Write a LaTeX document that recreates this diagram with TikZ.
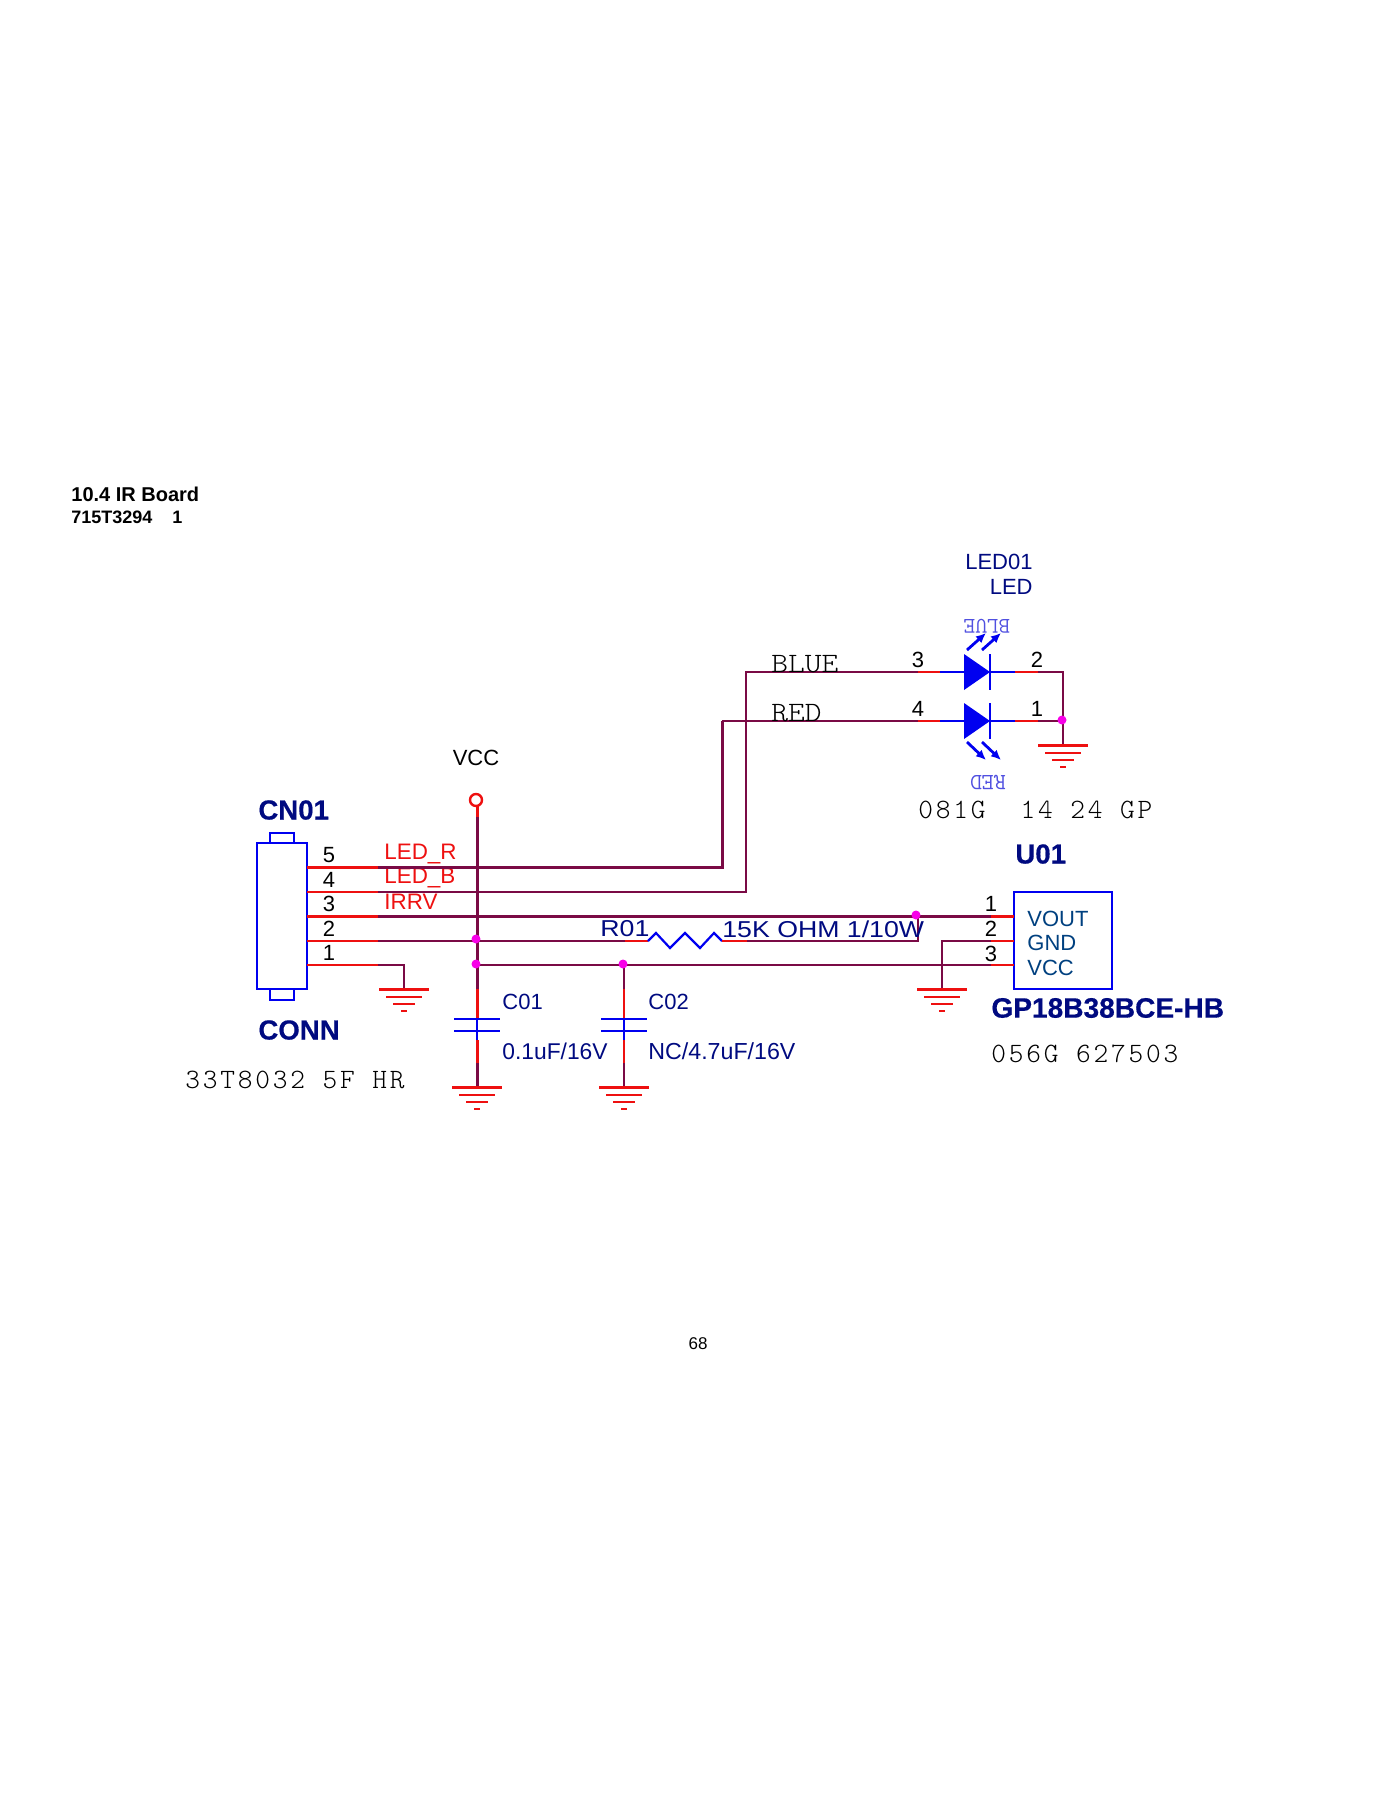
\documentclass[tikz,border=0pt]{standalone}
\usepackage{fontspec}
\usetikzlibrary{arrows.meta}
\setmainfont{Liberation Sans}
\newfontfamily\widesans[FakeStretch=1.16]{Liberation Sans}
\newfontfamily\heavysans[FakeBold=0.5]{Liberation Sans Bold}
\newfontfamily\thinmono[FakeStretch=1.14]{Latin Modern Mono Light}
\newfontfamily\spacedmono[LetterSpace=10]{Latin Modern Mono Light}
\definecolor{wirecol}{HTML}{7A0A45}
\definecolor{pincol}{HTML}{EE1010}
\definecolor{navycol}{HTML}{000A80}
\definecolor{tealcol}{HTML}{00407F}
\definecolor{partblue}{HTML}{0000F0}
\definecolor{ghostblue}{HTML}{5050E0}
\definecolor{dotcol}{HTML}{F800E8}
\begin{document}
\begin{tikzpicture}[x=0.5pt,y=-0.5pt]
	\tikzstyle{wire}=[draw=wirecol,line width=1pt]
	\tikzstyle{thickwire}=[draw=wirecol,line width=1.5pt]
	\tikzstyle{pin}=[draw=pincol,line width=1pt]
	\tikzstyle{thickpin}=[draw=pincol,line width=1.5pt]
	\tikzstyle{part}=[draw=partblue,line width=1.4pt]
	\tikzstyle{lead}=[draw=partblue,line width=1.1pt]
	\tikzstyle{label}=[inner sep=0,yshift=-0.5pt]
	\tikzstyle{num}=[label,font=\fontsize{11}{11}\selectfont]
	\tikzstyle{pinname}=[label,anchor=west,text=pincol,font=\fontsize{11.2}{11.2}\selectfont]
	\tikzstyle{val}=[label,anchor=west,text=navycol,font=\fontsize{11}{11}\selectfont]
	\tikzstyle{big}=[label,anchor=west,text=navycol,font=\fontsize{13.8}{13.8}\heavysans]
	\tikzstyle{mono}=[label,anchor=west,font=\fontsize{14}{14}\spacedmono]
	\tikzstyle{junction}=[circle,fill=dotcol,inner sep=0,minimum size=4.5pt]

	\useasboundingbox (0,0) rectangle (1400,1812);

	\node[label,anchor=west,font=\fontsize{10}{10}\selectfont\bfseries](title) at (71,493){10.4 IR Board};
	\node[label,anchor=west,font=\fontsize{9}{9}\selectfont\bfseries](board) at (71,516){715T3294\ \ \ \ 1};
	\node[label,font=\fontsize{8.5}{8.5}\selectfont](page) at (698,1343){68};

	% connector CN01
	\draw[part] (257,843) rectangle (307,989);
	\draw[lead] (270,843) -- (270,833) -- (294,833) -- (294,843);
	\draw[lead] (270,989) -- (270,1000) -- (294,1000) -- (294,989);
	\node[big](cn) at (258,809){CN01};
	\node[big](conn) at (258,1029){CONN};
	\node[mono](cnpart) at (185,1079){33T8032 5F HR};
	\node[num](n5) at (329,854){5};
	\node[num](n4) at (329,879){4};
	\node[num](n3) at (329,903){3};
	\node[num](n2) at (329,928){2};
	\node[num](n1) at (329,952){1};
	\node[pinname](ledr) at (384,853){LED\_R};
	\node[pinname](ledb) at (384,877){LED\_B};
	\node[pinname](irrv) at (384,901){IRRV};

	\foreach \pn/\py in {5/867,4/892,3/916,2/941,1/965}{
		\coordinate (a\pn) at (307,\py);
		\coordinate (b\pn) at (378,\py);
	}
	\coordinate (rcorner) at (722,867);
	\coordinate (rled) at (722,721);
	\coordinate (bcorner) at (746,892);
	\coordinate (bled) at (746,672);
	\coordinate (tapvcc) at (477,965);
	\coordinate (tap2) at (477,941);

	% led side
	\coordinate (l3a) at (918,672);
	\coordinate (l3b) at (940,672);
	\coordinate (l3c) at (964,672);
	\coordinate (l2c) at (990,672);
	\coordinate (l2b) at (1015,672);
	\coordinate (l2a) at (1038,672);
	\coordinate (lcr) at (1063,672);
	\coordinate (l4a) at (918,721);
	\coordinate (l4b) at (940,721);
	\coordinate (l4c) at (964,721);
	\coordinate (l1c) at (990,721);
	\coordinate (l1b) at (1015,721);
	\coordinate (l1a) at (1038,721);
	\coordinate (ljoin) at (1063,721);
	\coordinate (gled) at (1063,745);

	\draw[thickwire] (b5) -- (rcorner) -- (rled);
	\draw[wire] (rled) -- (l4a);
	\draw[wire] (b4) -- (bcorner) -- (bled) -- (l3a);
	\draw[wire] (l2a) -- (lcr) -- (gled);
	\draw[wire] (l1a) -- (ljoin);
	\foreach \ua/\ub in {a5/b5,a3/b3}{\draw[thickpin] (\ua) -- (\ub);}
	\foreach \ua/\ub in {a4/b4,a2/b2,a1/b1,l3a/l3b,l2b/l2a,l4a/l4b,l1b/l1a}{\draw[pin] (\ua) -- (\ub);}
	\draw[lead] (l3b) -- (l3c);
	\draw[lead] (l2c) -- (l2b);
	\draw[lead] (l4b) -- (l4c);
	\draw[lead] (l1c) -- (l1b);
	\foreach \ly in {672,721}{
		\fill[partblue] (964,\ly-18) -- (990,\ly) -- (964,\ly+18) -- cycle;
		\draw[lead] (990,\ly-18) -- (990,\ly+18);
	}
	\foreach \ax in {967,982}{
		\draw[lead,line width=1.4pt,-{Latex[length=5pt,width=4.5pt]}] (\ax,650) -- (\ax+19,633);
		\draw[lead,line width=1.4pt,-{Latex[length=5pt,width=4.5pt]}] (\ax,742) -- (\ax+19,760);
	}
	\node[label,rotate=180,text=ghostblue,font=\fontsize{11.2}{11.2}\ttfamily](gblue) at (987,625){BLUE};
	\node[label,rotate=180,text=ghostblue,font=\fontsize{11.6}{11.6}\ttfamily](gred) at (988,781){RED};
	\node[val,anchor=east](led1) at (1033,561){LED01};
	\node[val,anchor=east](led2) at (1033,586){LED};
	\node[label,anchor=west,font=\fontsize{14}{14}\thinmono](blue) at (771,663){BLUE};
	\node[label,anchor=west,font=\fontsize{14}{14}\thinmono](red) at (771,712){RED};
	\node[num](m3) at (918,659){3};
	\node[num](m2) at (1037,659){2};
	\node[num](m4) at (918,708){4};
	\node[num](m1) at (1037,708){1};
	\node[mono](ledpart) at (918,809){081G\ \ 14 24 GP};

	% vcc rail and caps
	\coordinate (vt) at (477,806);
	\coordinate (vm) at (477,817);
	\coordinate (c1t) at (477,989);
	\coordinate (c1p) at (477,1018);
	\coordinate (c1q) at (477,1031);
	\coordinate (c1r) at (477,1040);
	\coordinate (c1s) at (477,1063);
	\coordinate (c1g) at (477,1087);
	\coordinate (c2z) at (624,965);
	\coordinate (c2t) at (624,989);
	\coordinate (c2p) at (624,1018);
	\coordinate (c2q) at (624,1031);
	\coordinate (c2r) at (624,1040);
	\coordinate (c2s) at (624,1063);
	\coordinate (c2g) at (624,1087);
	\coordinate (cng) at (404,989);
	\coordinate (cnk) at (404,965);

	\draw[wire] (b1) -- (cnk) -- (cng);
	\draw[wire] (c2z) -- (c2t);
	\draw[pin] (c2t) -- (c2p);
	\draw[lead] (c2p) -- (c2r);
	\draw[pin] (c2r) -- (c2s);
	\draw[wire] (c2s) -- (c2g);

	% u01 side
	\draw[part] (1014,892) rectangle (1112,989);
	\node[big](uname) at (1015,853){U01};
	\node[val,text=tealcol](vout) at (1027,918){VOUT};
	\node[val,text=tealcol](gnd) at (1027,942){GND};
	\node[val,text=tealcol](vcc) at (1027,967){VCC};
	\node[num](u1) at (991,903){1};
	\node[num](u2) at (991,928){2};
	\node[num](u3) at (991,953){3};
	\node[big,font=\fontsize{14.05}{14.05}\heavysans](gp) at (991,1007){GP18B38BCE-HB};
	\node[mono](upart) at (991,1053){056G 627503};

	\coordinate (u1a) at (991,916);
	\coordinate (u1b) at (1014,916);
	\coordinate (u2a) at (991,941);
	\coordinate (u2b) at (1014,941);
	\coordinate (u3a) at (991,965);
	\coordinate (u3b) at (1014,965);
	\coordinate (ugk) at (942,941);
	\coordinate (ugg) at (942,989);
	\coordinate (rtap) at (918,916);
	\coordinate (rdown) at (918,941);
	\coordinate (r1) at (625,941);
	\coordinate (r2) at (648,941);
	\coordinate (r3) at (722,941);
	\coordinate (r4) at (747,941);

	\draw[thickwire] (b3) -- (u1a);
	\draw[thickpin] (u1a) -- (u1b);
	\draw[wire] (b2) -- (r1);
	\draw[pin] (r1) -- (r2);
	\draw[lead] (r2) -- ++(8,-8) -- ++(14,15) -- ++(15,-15) -- ++(15,15) -- ++(14,-15) -- (r3);
	\draw[pin] (r3) -- (r4);
	\draw[wire] (r4) -- (rdown) -- (rtap);
	\draw[wire] (tapvcc) -- (u3a);
	\draw[pin] (u3a) -- (u3b);
	\draw[pin] (u2a) -- (u2b);
	\draw[wire] (u2a) -- (ugk) -- (ugg);
	\node[label,anchor=west,text=navycol,font=\fontsize{11.5}{11.5}\widesans](rname) at (600,928){R01};
	\node[label,anchor=west,text=navycol,font=\fontsize{11.5}{11.5}\widesans](rval) at (722,928){15K OHM 1/10W};

	% vcc rail on top of the others
	\draw[thickpin] (vt) -- (vm);
	\draw[thickwire] (vm) -- (c1t);
	\draw[thickpin] (c1t) -- (c1p);
	\draw[lead] (c1p) -- (c1q);
	\draw[lead] (c1q) -- (c1r);
	\draw[thickpin] (c1r) -- (c1s);
	\draw[thickwire] (c1s) -- (c1g);
	\foreach \cx in {477,624}{
		\draw[lead] (\cx-23,1019) -- (\cx+23,1019);
		\draw[lead] (\cx-23,1031) -- (\cx+23,1031);
	}
	\draw[draw=pincol,line width=1.2pt,fill=white] (476,800) circle (6);
	\node[label,font=\fontsize{11}{11}\selectfont](vccname) at (476,757){VCC};
	\node[val](c1) at (502,1001){C01};
	\node[val](c2) at (648,1001){C02};
	\node[val,font=\fontsize{11.4}{11.4}\selectfont](c1v) at (502,1050){0.1uF/16V};
	\node[val,font=\fontsize{11.6}{11.6}\selectfont](c2v) at (648,1050){NC/4.7uF/16V};

	% grounds
	\foreach \gx/\gy in {404/989,477/1087,624/1087,942/989,1063/745}{
		\draw[draw=pincol,line width=1.5pt] (\gx-25,\gy) -- (\gx+25,\gy);
		\draw[draw=pincol,line width=1.2pt] (\gx-18,\gy+8) -- (\gx+18,\gy+8);
		\draw[draw=pincol,line width=1pt] (\gx-11,\gy+15) -- (\gx+11,\gy+15);
		\draw[draw=pincol,line width=1.2pt] (\gx-3,\gy+22) -- (\gx+3,\gy+22);
	}

	\node[junction](j1) at (476,939){};
	\node[junction](j2) at (476,964){};
	\node[junction](j3) at (623,964){};
	\node[junction](j4) at (916,915){};
	\node[junction](j5) at (1062,720){};
\end{tikzpicture}
\end{document}
